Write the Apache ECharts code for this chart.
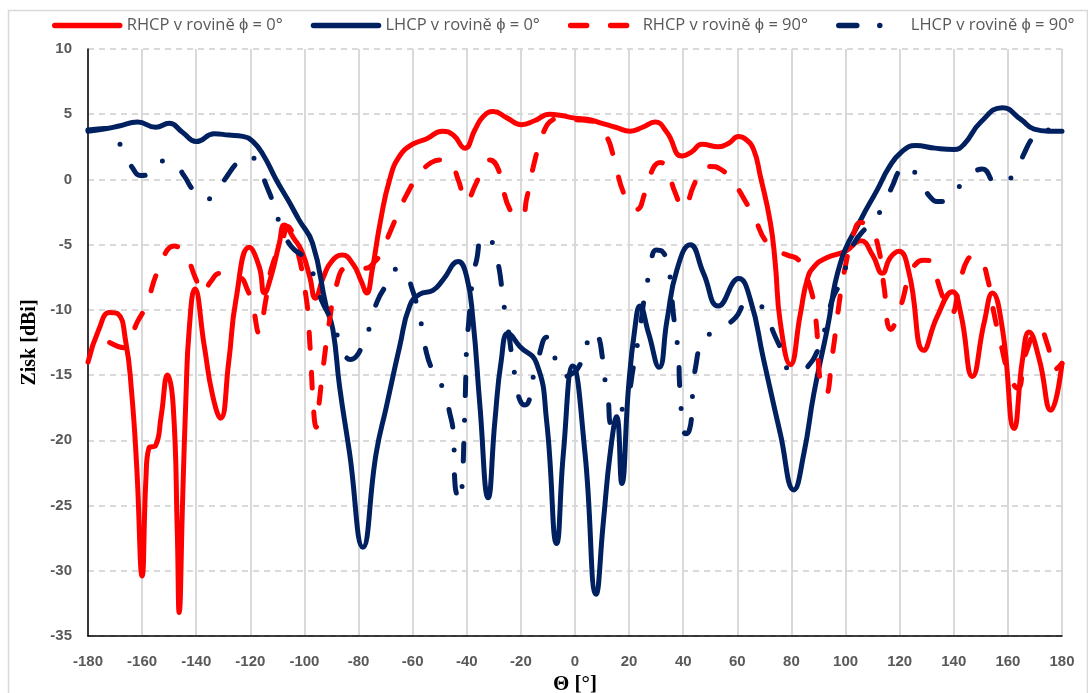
<!DOCTYPE html>
<html>
<head>
<meta charset="utf-8">
<script src="https://cdn.jsdelivr.net/npm/echarts@6/dist/echarts.min.js"></script>
<style>
html,body{margin:0;padding:0;background:#fff;overflow:hidden;}
#chart{width:1088px;height:693px;}
</style>
</head>
<body>
<div id="chart"></div>
<script>
// ---- Data (theta in degrees, gain in dBi) ----
const seriesNames = ['RHCP v rovině ϕ = 0°', 'LHCP v rovině ϕ = 0°', 'RHCP v rovině ϕ = 90°', 'LHCP v rovině ϕ = 90°'];
const yTicks = [10, 5, 0, -5, -10, -15, -20, -25, -30, -35];
const xTicks = [-180,-160,-140,-120,-100,-80,-60,-40,-20,0,20,40,60,80,100,120,140,160,180];

const rhcp0Theta = [-180,-176,-172,-169,-166,-164,-162,-160,-158.6,-157.5,-155,-153,-150.6,-148.5,-147,-146.3,-145,-143.8,-142.6,-140.5,-137,-134,-131,-128,-125.3,-120.4,-116.7,-114.8,-112.3,-109.3,-107.4,-104,-101,-98,-96,-93,-90,-86,-82,-79,-77,-75,-72,-68.5,-64.8,-60,-55,-49,-45,-40.7,-37,-34,-30.3,-25,-19.8,-15,-9.3,-5,0,5,10,15,20.4,25,29.6,34,39.5,43,47,53,57,60.4,63,66,68.5,72.2,74,75.9,79.6,83.3,85.8,88.3,93,100,105.6,110,113.6,116.5,119.7,123.5,128.9,133.9,139.5,142.6,146.9,151.2,154.3,158,162.3,165.4,167.8,171.6,175.9,180];
const rhcp0Gain  = [-14,-11.5,-10.2,-10.3,-12.5,-16,-22,-30.4,-23,-20.6,-20.4,-18.2,-15,-17.4,-27,-33.2,-24.4,-16.7,-11.5,-8.4,-12.8,-16.5,-18.3,-14,-9.2,-5.2,-6.7,-8.7,-7.4,-4.9,-3.5,-4.5,-5.5,-7.5,-9.1,-7.5,-6.3,-5.8,-6.5,-7.8,-8.7,-7,-3.3,0,1.8,2.7,3.1,3.7,3.4,2.4,3.8,4.8,5.2,4.7,4.2,4.5,5.0,4.9,4.7,4.6,4.3,4.0,3.7,4.0,4.4,3.6,1.8,2.1,2.7,2.5,2.8,3.3,3.1,2.3,0.25,-3.3,-6.4,-11,-14.2,-10.3,-7.7,-6.7,-6.0,-5.5,-4.7,-5.8,-7.2,-6.0,-5.5,-7.2,-13.1,-10.5,-8.6,-10.3,-15.1,-11,-8.7,-11.5,-19.1,-13.8,-11.7,-13.8,-17.7,-14.1];

const lhcp0Theta = [-180,-173,-168.5,-161.7,-155,-150,-145,-140,-133.3,-128,-122.8,-119,-115,-110.5,-106,-102,-97,-92,-89.5,-87,-83.3,-78.4,-73.5,-69.7,-64.8,-61.1,-57.4,-52.5,-48.8,-43.2,-40.1,-37.7,-35.2,-32.1,-29.6,-27.2,-24.7,-20.4,-14.2,-10.5,-6.8,-4.3,-0.8,3.7,7.8,10.5,13,15.4,17.3,19.8,22.2,24,27.2,31.1,34,37.7,42.6,47.5,53,60.5,64.8,69.7,75.9,80.9,84.6,88.3,93.2,98.1,105.6,111.7,116,120.4,125.9,133,140.1,143.8,150,158,164.8,169.7,175,180];
const lhcp0Gain  = [3.7,3.9,4.1,4.4,4.0,4.3,3.6,2.9,3.5,3.4,3.3,2.9,1.8,0,-1.6,-3.1,-4.9,-9.7,-11.5,-15.9,-21,-28.2,-21,-17.4,-12.8,-9.7,-8.8,-8.5,-7.7,-6.3,-7.4,-10.8,-17.2,-24.4,-18.5,-13.8,-11.8,-12.8,-14.1,-18.5,-27.9,-21,-14.3,-21,-31.8,-26.2,-21,-18.2,-23.3,-15.9,-11.3,-9.7,-11.8,-14.4,-10.8,-6.9,-5,-7.2,-9.7,-7.6,-9.2,-13.8,-19.5,-23.8,-21,-16.4,-11.5,-6.4,-3.1,-0.8,0.9,2.05,2.6,2.4,2.3,2.7,4.4,5.5,4.6,3.85,3.7,3.7];

const rhcp90Theta = [-172,-166.7,-161.7,-158.6,-153.7,-148.1,-143.8,-140,-137.7,-134.5,-131.5,-127.8,-124,-121,-119.1,-116.7,-114.5,-112.3,-108,-106.3,-103.7,-99.4,-98,-96.5,-95.7,-94.5,-93.2,-90.7,-88.3,-84.6,-81,-77.2,-74,-71.6,-68.5,-65.4,-62.3,-58,-53.1,-49.5,-46.3,-43.2,-40.1,-37,-33.3,-31.5,-28.4,-24.1,-19.8,-17.9,-14.8,-11.7,-8,-4,0,5,8,11.7,14.2,18.5,22.8,25.9,29,31.5,34,37,40.1,43.8,46.9,50,53.7,58.6,63.6,66.7,70.4,74.7,78.5,82.7,86.4,88.9,90.7,92.6,95.1,97.5,99.4,103.1,105.6,109.3,112.3,114.2,116.7,120.4,123.5,125.9,129,132.1,133.9,136.5,139,142.6,145.1,147.5,150,152.5,154.9,157.4,160.5,163.6,166.7,171.6,174.7,177.2,180];
const rhcp90Gain  = [-12.5,-12.9,-10.9,-9.7,-6.8,-5.1,-5.9,-7.7,-8.7,-7.8,-7.2,-7.4,-7.5,-8.5,-9.7,-11.8,-9.5,-6.9,-4.6,-3.6,-4.6,-9,-12.6,-18,-19,-17,-14.6,-10.8,-8.2,-6.8,-6.8,-6.8,-6.3,-5.6,-4.1,-2.6,-1.2,0.25,1.3,1.5,1.4,0,-1.7,-0.5,1.15,1.5,0.8,-2.3,-2.9,-1.5,1.5,3.6,4.6,4.8,4.6,4.5,4.3,3.3,1.8,-1.3,-2.3,-1,0.9,1.3,0.8,-1,-2.2,-0.5,0.8,1.0,0.8,-0.25,-1.9,-3.1,-4.7,-5.5,-5.8,-6.2,-7.9,-10.5,-15.6,-16.5,-13.5,-9.7,-7.2,-4.1,-3.3,-3.8,-5.4,-8.2,-11.5,-9.7,-7.4,-6.5,-6.2,-6.3,-7.7,-9.3,-10.3,-7.6,-6.15,-5.9,-6.15,-7.6,-10.3,-12.6,-15,-16,-13.3,-11.4,-12.7,-14.6,-14.1];

const lhcp90Theta = [-180,-173,-167.6,-163.6,-160.5,-158,-154,-150.6,-147,-144.4,-140.7,-136.5,-133.6,-129,-124.3,-121,-117.5,-114.2,-111.7,-108.9,-105,-99.4,-96,-93.8,-89.5,-86,-83,-81,-79,-75.7,-73.2,-69.7,-65,-62,-60.5,-58.6,-56.5,-55,-52.7,-48.4,-46.3,-45,-44.3,-42.5,-41.6,-41,-40.5,-40,-39.3,-37.7,-36.4,-34.2,-31.5,-29.6,-28,-26.9,-25.7,-24.7,-23.3,-21.9,-20.4,-18.5,-16.9,-15.4,-13.6,-10.5,-7.4,-4.3,-2,2.1,4.9,7,8.5,10.1,11.1,12.3,13,14.4,17,19.8,21.4,22.6,24.1,25.3,26.5,28,30,32.1,34.6,35.6,36.4,37.4,38.3,38.6,39.1,39.7,41,42.3,43.2,43.6,44.8,46.3,49,52.1,55.5,59.3,63.6,67,70,73.5,75.9,79.6,83,85.8,89.5,92.6,95.1,98.1,100.6,103.1,108,113.6,117.3,120.4,123,126.8,131.5,134.6,138.3,143.8,147,150.6,155.6,159,162.3,165.8,169.1,172,180];
const lhcp90Gain  = [3.8,3.9,2.5,0.9,0.3,0.35,1.2,1.5,1.0,0.25,-0.9,-1.5,-1.3,0.13,1.4,1.8,1.3,-0.4,-1.7,-3.5,-5.1,-6.15,-7.7,-9.2,-11,-13,-13.8,-13.6,-12.9,-11.2,-9.4,-8.1,-6.8,-7.3,-8.2,-9.5,-11.4,-13.2,-14.6,-16.2,-17.9,-19.4,-23.5,-24.6,-22.8,-19.5,-16.2,-12.6,-11,-7.4,-6.2,-4.4,-4.6,-5.4,-6.9,-8.6,-10.4,-11.5,-13.6,-15.4,-16.9,-17.3,-16.9,-15.1,-13.7,-12.1,-13.7,-15.1,-15,-14.1,-12.3,-11.6,-11.9,-13.6,-15.4,-16.9,-18.7,-18.8,-17.8,-16.4,-14.6,-13.2,-11.4,-9.5,-8.2,-6.4,-5.4,-5.5,-6.9,-8.6,-10.4,-11.9,-13.7,-15.5,-17.1,-18.8,-19.5,-19.2,-17.8,-16,-14.1,-12.8,-12,-11.5,-11.2,-10.6,-9.5,-9.6,-10,-11.8,-12.9,-14.7,-14.8,-14.4,-13.2,-11.3,-9.2,-7.9,-6.4,-4.9,-3.6,-2.2,-0.5,0.8,1.0,0.13,-1.4,-1.7,-1.4,-0.13,0.5,0.8,-0.25,0.0,0.3,1.9,3.2,3.8,3.7];

function pairs(t, g) {
  if (t.length !== g.length) console.error('length mismatch', t.length, g.length);
  return t.map((v, i) => [v, g[i]]);
}

const RED = '#ff0000';
const NAVY = '#002060';
const LW = 5;

const chart = echarts.init(document.getElementById('chart'), null, { renderer: 'canvas' });

function lineSeries(name, data, color, dash) {
  return {
    name: name,
    type: 'line',
    data: data,
    showSymbol: false,
    symbol: 'none',
    smooth: 0.5,
    animation: false,
    lineStyle: { color: color, width: LW, type: dash, cap: 'round', join: 'round' },
    itemStyle: { color: color }
  };
}

const option = {
  animation: false,
  backgroundColor: '#ffffff',
  graphic: [{
    type: 'rect', left: 6, top: 8, z: -10,
    shape: { width: 1079, height: 700 },
    style: { fill: 'none', stroke: '#d9d9d9', lineWidth: 1.5 }
  }],
  legend: {
    top: 12,
    left: 47,
    itemWidth: 65,
    itemHeight: 6,
    itemGap: 28,
    itemStyle: { opacity: 0 },
    lineStyle: { width: 5.5 },
    textStyle: { fontFamily: "'Open Sans', 'Liberation Sans', sans-serif", fontSize: 16.5, color: '#595959', padding: [0, 0, 0, 2] },
    data: seriesNames
  },
  grid: { left: 88, right: 26, top: 49, bottom: 57, containLabel: false, outerBoundsMode: 'none' },
  xAxis: {
    type: 'value',
    min: -180, max: 180, interval: 20,
    name: 'Θ [°]',
    nameLocation: 'middle',
    nameGap: 36,
    nameTextStyle: { fontFamily: "'Liberation Serif', serif", fontWeight: 'bold', fontSize: 21, color: '#000' },
    axisLine: { onZero: false, lineStyle: { color: '#000', width: 1.5 } },
    axisTick: { show: false },
    axisLabel: { margin: 18, fontFamily: "'Liberation Sans', sans-serif", fontWeight: 'bold', fontSize: 15, color: '#595959',
      formatter: v => (xTicks.indexOf(v) >= 0 ? String(v) : '') },
    splitLine: { show: true, lineStyle: { color: '#d9d9d9', width: 2, type: 'solid' } }
  },
  yAxis: {
    type: 'value',
    min: -35, max: 10, interval: 5,
    name: 'Zisk [dBi]',
    nameLocation: 'middle',
    nameGap: 48,
    nameRotate: 90,
    nameTextStyle: { fontFamily: "'Liberation Serif', serif", fontWeight: 'bold', fontSize: 20, color: '#000' },
    axisLine: { show: true, onZero: false, lineStyle: { color: '#000', width: 1.5 } },
    axisTick: { show: false },
    axisLabel: { margin: 16, fontFamily: "'Liberation Sans', sans-serif", fontWeight: 'bold', fontSize: 15, color: '#595959',
      formatter: v => (yTicks.indexOf(v) >= 0 ? String(v) : '') },
    splitLine: { show: true, lineStyle: { color: '#d9d9d9', width: 2, type: [6, 5] } }
  },
  series: [
    lineSeries(seriesNames[0], pairs(rhcp0Theta, rhcp0Gain), RED, 'solid'),
    lineSeries(seriesNames[1], pairs(lhcp0Theta, lhcp0Gain), NAVY, 'solid'),
    lineSeries(seriesNames[2], pairs(rhcp90Theta, rhcp90Gain), RED, [16, 24]),
    lineSeries(seriesNames[3], pairs(lhcp90Theta, lhcp90Gain), NAVY, [18, 23, 0, 25])
  ]
};
chart.setOption(option);
</script>
</body>
</html>
